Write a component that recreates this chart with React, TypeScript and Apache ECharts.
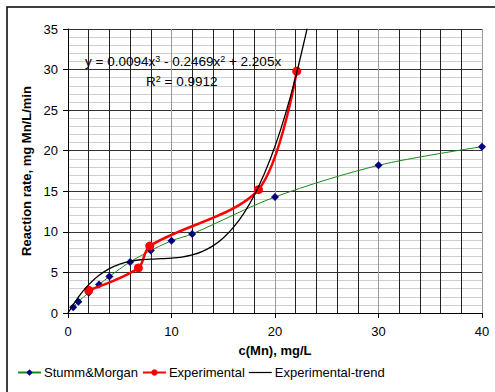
import React, { useEffect, useRef } from "react";
import * as echarts from "echarts";

const stummX = [0.5, 1, 2, 3, 4, 6, 8, 10, 12, 20, 30, 40];
const stummY = [0.7, 1.4, 2.5, 3.5, 4.5, 6.3, 7.7, 8.9, 9.75, 14.3, 18.2, 20.5];

const expX = [2, 6.8, 7.9, 18.4, 22.1];
const expY = [2.8, 5.55, 8.25, 15.2, 29.8];

const trendX = [0, 1, 2, 3, 4, 5, 6, 7, 8, 9, 10, 11, 12, 13, 14, 15, 16, 17, 18, 19, 20, 21, 22, 23, 23.1];
const trendY = [0, 1.97, 3.5, 4.65, 5.47, 6.03, 6.37, 6.56, 6.65, 6.7, 6.76, 6.89, 7.15, 7.59, 8.27, 9.25, 10.58, 12.31, 14.52, 17.24, 20.54, 24.48, 29.1, 34.47, 35.06];

const xTicks = [0, 10, 20, 30, 40];
const yTicks = [0, 5, 10, 15, 20, 25, 30, 35];

const FONT = "'Liberation Sans', Arial, sans-serif";

export default function App() {
  const ref = useRef<HTMLDivElement>(null);
  useEffect(() => {
    document.body.style.margin = "0";
    const chart = echarts.init(ref.current!, null, { renderer: "svg" });
    const pair = (xs: number[], ys: number[]) => xs.map((x, i) => [x, ys[i]]);
    const supStyle = {
      fontSize: 9,
      verticalAlign: "top",
      fontFamily: FONT,
      fill: "#000",
      lineHeight: 9,
      padding: [0, 0, 6, 0],
    };
    chart.setOption({
      animation: false,
      backgroundColor: "#fff",
      textStyle: { fontFamily: FONT },
      grid: { left: 68, right: 13, top: 29, bottom: 79, containLabel: false },
      xAxis: {
        type: "value",
        min: xTicks[0],
        max: xTicks[xTicks.length - 1],
        interval: 10,
        name: "c(Mn), mg/L",
        nameLocation: "middle",
        nameGap: 31,
        nameTextStyle: { fontWeight: "bold", fontSize: 13, color: "#000", fontFamily: FONT },
        axisLine: { lineStyle: { color: "#000", width: 1 } },
        axisTick: { show: true, length: 5, lineStyle: { color: "#000" } },
        axisLabel: { fontSize: 13, color: "#000", margin: 12, fontFamily: FONT },
        splitLine: { show: true, lineStyle: { color: "#9a9a9a", width: 1 } },
        minorTick: { show: false, splitNumber: 5 },
        minorSplitLine: { show: true, lineStyle: { color: "#222", width: 1 } },
      },
      yAxis: {
        type: "value",
        min: yTicks[0],
        max: yTicks[yTicks.length - 1],
        interval: 5,
        name: "Reaction rate, mg Mn/L/min",
        nameLocation: "middle",
        nameGap: 30,
        nameTextStyle: { fontWeight: "bold", fontSize: 13, color: "#000", fontFamily: FONT },
        axisLine: { show: true, lineStyle: { color: "#000", width: 1 } },
        axisTick: { show: true, length: 5, lineStyle: { color: "#000" } },
        axisLabel: { fontSize: 13, color: "#000", margin: 10, fontFamily: FONT },
        splitLine: { show: true, lineStyle: { color: "#333", width: 1 } },
        minorTick: { show: false, splitNumber: 5 },
        minorSplitLine: { show: true, lineStyle: { color: "#cfcfcf", width: 1 } },
      },
      legend: {
        left: 12,
        top: 361,
        itemWidth: 23,
        itemHeight: 8,
        itemGap: 4,
        textStyle: { fontSize: 13, color: "#000", fontFamily: FONT, padding: [0, 0, 0, -2] },
        data: [
          { name: "Stumm&Morgan" },
          { name: "Experimental" },
          { name: "Experimental-trend", icon: "path://M0 0 H24 V1.3 H0 Z" },
        ],
      },
      series: [
        {
          name: "Stumm&Morgan",
          type: "line",
          data: pair(stummX, stummY),
          smooth: 0.3,
          symbol: "diamond",
          symbolSize: 8,
          itemStyle: { color: "#000080" },
          lineStyle: { color: "#1a8a1a", width: 1 },
          z: 3,
        },
        {
          name: "Experimental",
          type: "line",
          data: pair(expX, expY),
          smooth: 0.3,
          symbol: "circle",
          symbolSize: 9,
          itemStyle: { color: "#ff0000" },
          lineStyle: { color: "#ff0000", width: 2.5 },
          z: 4,
        },
        {
          name: "Experimental-trend",
          type: "line",
          data: pair(trendX, trendY),
          smooth: 0.3,
          symbol: "none",
          itemStyle: { color: "#000" },
          lineStyle: { color: "#000", width: 1.3 },
          z: 5,
        },
      ],
      graphic: [
        {
          type: "rect",
          shape: { x: 7, y: 7, width: 700, height: 700 },
          style: { fill: "none", stroke: "#000", lineWidth: 1.5 },
          silent: true,
        },
        {
          type: "text",
          left: 85,
          top: 54,
          z: 10,
          style: {
            text: "y = 0.0094x{sup|3} - 0.2469x{sup|2} + 2.205x",
            fontSize: 13.5,
            fontFamily: FONT,
            fill: "#000",
            rich: { sup: supStyle },
          },
        },
        {
          type: "text",
          left: 146,
          top: 74,
          z: 10,
          style: {
            text: "R{sup|2} = 0.9912",
            fontSize: 13.5,
            fontFamily: FONT,
            fill: "#000",
            rich: { sup: supStyle },
          },
        },
      ],
    });
    return () => chart.dispose();
  }, []);
  return (
    <div
      ref={ref}
      style={{ position: "fixed", left: 0, top: 0, width: 495, height: 392 }}
    />
  );
}
